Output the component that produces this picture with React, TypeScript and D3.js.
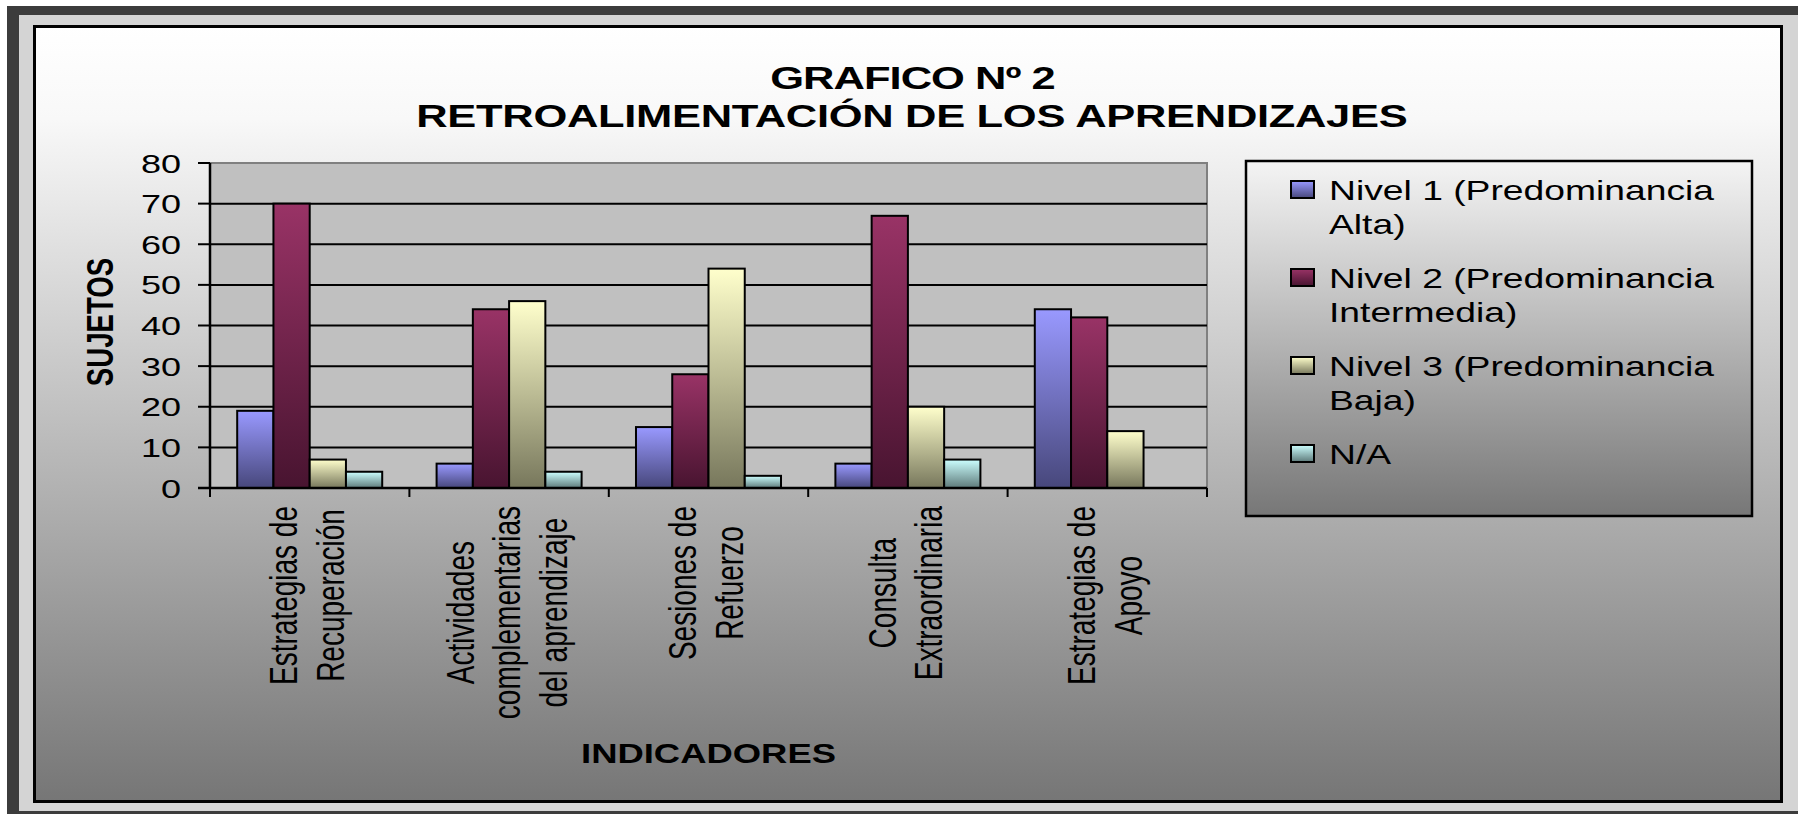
import React, { useEffect, useRef } from 'react';
import * as d3 from 'd3';

// categorias (con los saltos de linea del grafico original)
const categoryLines = [
  ['Estrategias de', 'Recuperación'],
  ['Actividades', 'complementarias', 'del aprendizaje'],
  ['Sesiones de', 'Refuerzo'],
  ['Consulta', 'Extraordinaria'],
  ['Estrategias de', 'Apoyo'],
];
const categories = categoryLines.map((l) => l.join(' '));

const seriesKeys = ['nivel1', 'nivel2', 'nivel3', 'na'];
const nivel1 = [19, 6, 15, 6, 44];
const nivel2 = [70, 44, 28, 67, 42];
const nivel3 = [7, 46, 54, 20, 14];
const noAplica = [4, 4, 3, 7, 0];
const seriesValues = [nivel1, nivel2, nivel3, noAplica];

const legendLines = [
  ['Nivel 1 (Predominancia', 'Alta)'],
  ['Nivel 2 (Predominancia', 'Intermedia)'],
  ['Nivel 3 (Predominancia', 'Baja)'],
  ['N/A'],
];

const yTicks = [0, 10, 20, 30, 40, 50, 60, 70, 80];

const topColors = ['#9999ff', '#993366', '#ffffcc', '#ccffff'];
const bottomColors = ['#47477b', '#481430', '#77775c', '#5e7a7a'];

const W = 1798;
const H = 814;
const SX = 1.36; // the original picture is stretched horizontally
const FONT = '"Liberation Sans", Arial, sans-serif';

export default function App() {
  const svgRef = useRef<SVGSVGElement>(null);

  useEffect(() => {
    const svg = d3.select(svgRef.current);
    svg.selectAll('*').remove();

    const defs = svg.append('defs');

    const bg = defs.append('linearGradient').attr('id', 'bgGrad')
      .attr('x1', 0).attr('y1', 0).attr('x2', 0).attr('y2', 1);
    bg.append('stop').attr('offset', '0').attr('stop-color', '#ffffff');
    bg.append('stop').attr('offset', '0.12').attr('stop-color', '#f8f8f8');
    bg.append('stop').attr('offset', '1').attr('stop-color', '#767676');

    const lg = defs.append('linearGradient').attr('id', 'legGrad')
      .attr('x1', 0).attr('y1', 0).attr('x2', 0).attr('y2', 1);
    lg.append('stop').attr('offset', '0').attr('stop-color', '#f4f4f4');
    lg.append('stop').attr('offset', '1').attr('stop-color', '#777777');

    seriesKeys.forEach((k, i) => {
      const g = defs.append('linearGradient').attr('id', 'grad-' + k)
        .attr('x1', 0).attr('y1', 0).attr('x2', 0).attr('y2', 1);
      g.append('stop').attr('offset', '0').attr('stop-color', topColors[i]);
      g.append('stop').attr('offset', '1').attr('stop-color', bottomColors[i]);
    });

    // marco
    svg.append('rect').attr('width', W).attr('height', H).attr('fill', '#ffffff');
    svg.append('rect').attr('x', 7).attr('y', 6).attr('width', W - 7).attr('height', H - 6)
      .attr('fill', '#3c3c3c');
    svg.append('rect').attr('x', 19).attr('y', 15).attr('width', W - 19).attr('height', 796)
      .attr('fill', '#d4d4d4');
    svg.append('rect').attr('x', 34.5).attr('y', 26.5).attr('width', 1747).attr('height', 775)
      .attr('fill', 'url(#bgGrad)').attr('stroke', '#000').attr('stroke-width', 3);

    const x = d3.scaleBand().domain(categories).range([210, 1207]).padding(0);
    const xSub = d3.scaleBand().domain(seriesKeys).range([0, x.bandwidth()])
      .paddingInner(0).paddingOuter(0.75);
    const y = d3.scaleLinear().domain([0, 80]).range([488, 163]);

    // area de trazado
    svg.append('rect').attr('x', 210).attr('y', y(80)).attr('width', 997)
      .attr('height', y(0) - y(80)).attr('fill', '#c0c0c0')
      .attr('stroke', '#808080').attr('stroke-width', 2);

    svg.append('g').selectAll('line')
      .data(yTicks.filter((t) => t > 0 && t < 80))
      .enter().append('line')
      .attr('x1', 210).attr('x2', 1207)
      .attr('y1', (d) => y(d)).attr('y2', (d) => y(d))
      .attr('stroke', '#000').attr('stroke-width', 2);

    // barras
    const groups = svg.append('g').selectAll('g')
      .data(categories).enter().append('g')
      .attr('transform', (d) => `translate(${x(d)},0)`);

    groups.selectAll('rect')
      .data((d, ci) => seriesKeys.map((k, si) => ({ key: k, value: seriesValues[si][ci] })))
      .enter().append('rect')
      .filter((d) => d.value > 0)
      .attr('x', (d) => xSub(d.key)!)
      .attr('y', (d) => y(d.value))
      .attr('width', xSub.bandwidth())
      .attr('height', (d) => y(0) - y(d.value))
      .attr('fill', (d) => `url(#grad-${d.key})`)
      .attr('stroke', '#000').attr('stroke-width', 2);

    // ejes
    svg.append('line').attr('x1', 210).attr('x2', 210).attr('y1', y(80)).attr('y2', y(0))
      .attr('stroke', '#000').attr('stroke-width', 2.5);
    svg.append('line').attr('x1', 198).attr('x2', 1207).attr('y1', y(0)).attr('y2', y(0))
      .attr('stroke', '#000').attr('stroke-width', 2.5);
    svg.append('g').selectAll('line').data(yTicks).enter().append('line')
      .attr('x1', 198).attr('x2', 210).attr('y1', (d) => y(d)).attr('y2', (d) => y(d))
      .attr('stroke', '#000').attr('stroke-width', 2);
    const bounds = categories.map((c) => x(c)!).concat([1207]);
    svg.append('g').selectAll('line').data(bounds).enter().append('line')
      .attr('x1', (d) => d).attr('x2', (d) => d).attr('y1', y(0)).attr('y2', y(0) + 9)
      .attr('stroke', '#000').attr('stroke-width', 2);

    svg.append('g').selectAll('text').data(yTicks).enter().append('text')
      .attr('transform', (d) => `translate(181,${y(d)}) scale(${SX},1)`)
      .attr('dy', '0.36em')
      .attr('text-anchor', 'end')
      .attr('font-family', FONT).attr('font-size', 26.5).attr('fill', '#000')
      .text((d) => d);

    // etiquetas de categoria, giradas
    categoryLines.forEach((lines, ci) => {
      const cx = x(categories[ci])! + x.bandwidth() / 2;
      const g = svg.append('g');
      const texts = lines.map((line) => g.append('text')
        .attr('font-family', FONT).attr('font-size', 28).attr('fill', '#000')
        .attr('text-anchor', 'middle')
        .text(line));
      const maxLen = d3.max(texts, (t) => (t.node() as SVGTextElement).getComputedTextLength()) || 0;
      const cy = 506 + maxLen / 2;
      texts.forEach((t, j) => {
        const bx = cx + (j - (lines.length - 1) / 2) * 46.5 + 11;
        t.attr('transform', `translate(${bx},${cy}) scale(${SX},1) rotate(-90)`);
      });
    });

    // titulos de ejes
    svg.append('text')
      .attr('transform', `translate(113,322) scale(${SX},1) rotate(-90)`)
      .attr('text-anchor', 'middle')
      .attr('font-family', FONT).attr('font-weight', 'bold').attr('font-size', 27.6)
      .text('SUJETOS');
    svg.append('text')
      .attr('transform', `translate(708.5,763) scale(${SX},1)`)
      .attr('text-anchor', 'middle')
      .attr('font-family', FONT).attr('font-weight', 'bold').attr('font-size', 26.8)
      .text('INDICADORES');

    // titulo
    svg.append('text')
      .attr('transform', `translate(913,89) scale(${SX},1)`)
      .attr('text-anchor', 'middle')
      .attr('font-family', FONT).attr('font-weight', 'bold').attr('font-size', 32)
      .attr('textLength', 210).attr('lengthAdjust', 'spacing')
      .text('GRAFICO Nº 2');
    svg.append('text')
      .attr('transform', `translate(912,127) scale(${SX},1)`)
      .attr('text-anchor', 'middle')
      .attr('font-family', FONT).attr('font-weight', 'bold').attr('font-size', 32)
      .attr('textLength', 729).attr('lengthAdjust', 'spacing')
      .text('RETROALIMENTACIÓN DE LOS APRENDIZAJES');

    // leyenda
    const leg = svg.append('g');
    leg.append('rect').attr('x', 1246).attr('y', 161).attr('width', 506).attr('height', 355)
      .attr('fill', 'url(#legGrad)').attr('stroke', '#000').attr('stroke-width', 2.5);
    legendLines.forEach((lines, i) => {
      const base = 200 + i * 88;
      leg.append('rect').attr('x', 1291).attr('y', base - 19).attr('width', 23).attr('height', 17)
        .attr('fill', `url(#grad-${seriesKeys[i]})`).attr('stroke', '#000').attr('stroke-width', 2);
      lines.forEach((line, j) => {
        leg.append('text')
          .attr('transform', `translate(1329,${base + j * 34}) scale(${SX},1)`)
          .attr('font-family', FONT).attr('font-size', 27.4).attr('fill', '#000')
          .text(line);
      });
    });
  }, []);

  return (
    <svg
      ref={svgRef}
      width={W}
      height={H}
      style={{ position: 'absolute', left: 0, top: 0, display: 'block' }}
    />
  );
}
